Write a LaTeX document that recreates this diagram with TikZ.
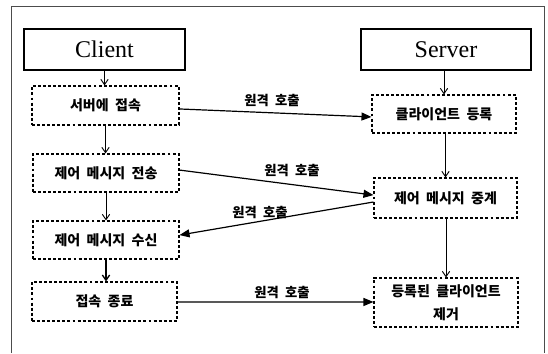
\documentclass[tikz,border=0pt]{standalone}
\usepackage{fontspec}
\setmainfont{Liberation Serif}
\newfontfamily\kr[WordSpace=2]{Noto Sans CJK KR}
\usetikzlibrary{arrows.meta}
\begin{document}
\begin{tikzpicture}[x=0.75pt,y=-0.75pt,
  titlebox/.style={draw,line width=0.8pt,inner sep=0pt,font=\fontsize{18}{20}\selectfont},
  stepbox/.style={draw,line width=0.8pt,dash pattern=on 2.2pt off 1.6pt,inner sep=0pt,align=center,font=\kr\bfseries\fontsize{10.5}{17}\selectfont},
  vflow/.style={line width=0.7pt,-{Straight Barb[length=4pt,width=5.5pt]}},
  call/.style={line width=0.9pt,-{Triangle[length=7.5pt,width=6pt]}},
  calllbl/.style={font=\kr\bfseries\fontsize{10}{12}\selectfont,inner sep=0pt}]
\useasboundingbox (0,0) rectangle (548,353);
\draw[line width=0.6pt,black!70] (11,353) -- (11,6) -- (544,6) -- (544,353);
% title boxes
\node[titlebox,minimum width=120.75pt,minimum height=30.75pt] (cl) at (104.5,49.5) {Client};
\node[titlebox,minimum width=127.5pt,minimum height=30.75pt] (sv) at (446,49.5) {Server};
% client column
\node[stepbox,minimum width=110.25pt,minimum height=29.25pt] (c1) at (105.5,105.5) {서버에 접속};
\node[stepbox,minimum width=109.5pt,minimum height=28.5pt] (c2) at (106,173) {제어 메시지 전송};
\node[stepbox,minimum width=109.5pt,minimum height=28.5pt] (c3) at (106,240) {제어 메시지 수신};
\node[stepbox,minimum width=108.75pt,minimum height=29.25pt] (c4) at (104.5,301.5) {접속 종료};
% server column
\node[stepbox,minimum width=108pt,minimum height=28.5pt] (s1) at (444,114) {클라이언트 등록};
\node[stepbox,minimum width=107.25pt,minimum height=30pt] (s2) at (445.5,198) {제어 메시지 중계};
\node[stepbox,minimum width=108pt,minimum height=36.75pt] (s3) at (446,302.5) {등록된 클라이언트\\제거};
% vertical flows
\draw[vflow] (cl.south) -- (cl.south |- c1.north);
\draw[vflow] (c1.south) -- (c1.south |- c2.north);
\draw[vflow] (c2.south) -- (c2.south |- c3.north);
\draw[vflow,line width=1pt] (c3.south) -- (c3.south |- c4.north);
\draw[vflow] (sv.south -| s1.north) -- (s1.north);
\draw[vflow] (s1.south -| s2.north) -- (s2.north);
\draw[vflow] (s2.south -| s3.north) -- (s3.north);
% remote calls
\draw[call] ([yshift=-2.6pt]c1.east) -- ([yshift=-2.2pt]s1.west);
\draw[call] ([yshift=2.2pt]c2.east) -- ([yshift=2.2pt]s2.west);
\draw[call] ([yshift=-3pt]s2.west) -- ([yshift=3.7pt]c3.east);
\draw[call] ([yshift=-0.4pt]c4.east) -- ([yshift=0.4pt]s3.west);
\node[calllbl] (l1) at (272,100) {원격 호출};
\node[calllbl] (l2) at (292,170) {원격 호출};
\node[calllbl] (l3) at (260,212) {원격 호출};
\node[calllbl] (l4) at (282,292) {원격 호출};
\end{tikzpicture}
\end{document}
